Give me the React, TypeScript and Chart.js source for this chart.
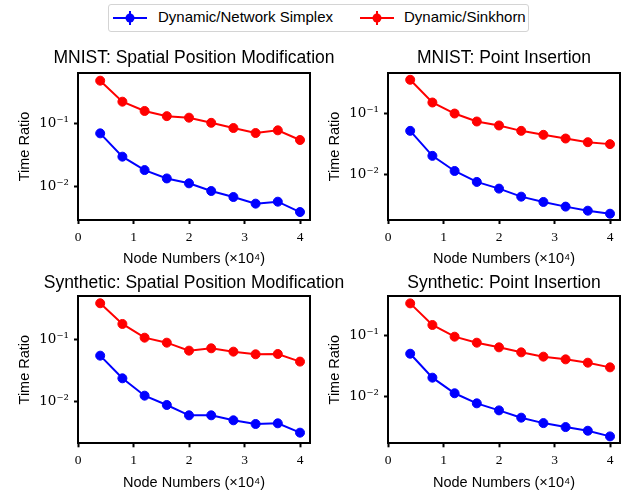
import React, { useEffect, useRef } from "react";
import { Chart, registerables } from "chart.js";

Chart.register(...registerables);

// ---- data ----
const nodeNumbers = [0.4, 0.8, 1.2, 1.6, 2.0, 2.4, 2.8, 3.2, 3.6, 4.0];
const xTickValues = [0, 1, 2, 3, 4];
const xLimits = [0, 4.18];

const seriesNames = ["Dynamic/Network Simplex", "Dynamic/Sinkhorn"];
const seriesColors = ["#0000ff", "#ff0000"];

const panelTitles = [
  "MNIST: Spatial Position Modification",
  "MNIST: Point Insertion",
  "Synthetic: Spatial Position Modification",
  "Synthetic: Point Insertion",
];

const mnistSpatialNS = [0.0695, 0.0298, 0.0183, 0.0135, 0.0113, 0.00855, 0.00687, 0.0054, 0.0058, 0.00398];
const mnistSpatialSK = [0.472, 0.22, 0.157, 0.13, 0.123, 0.102, 0.0844, 0.0704, 0.0776, 0.0546];
const mnistInsertNS = [0.0526, 0.0205, 0.0116, 0.00768, 0.00597, 0.00441, 0.00361, 0.00303, 0.0026, 0.00232];
const mnistInsertSK = [0.36, 0.153, 0.101, 0.0748, 0.0644, 0.0526, 0.0453, 0.0394, 0.0343, 0.0319];
const synthSpatialNS = [0.0557, 0.0239, 0.0125, 0.00883, 0.006, 0.006, 0.00498, 0.00434, 0.00445, 0.00314];
const synthSpatialSK = [0.394, 0.182, 0.109, 0.0905, 0.0672, 0.0733, 0.0647, 0.0586, 0.0593, 0.0446];
const synthInsertNS = [0.0494, 0.02, 0.0111, 0.00759, 0.00582, 0.00442, 0.0036, 0.0031, 0.0027, 0.00218];
const synthInsertSK = [0.33, 0.146, 0.0939, 0.0749, 0.0628, 0.052, 0.0442, 0.0399, 0.0352, 0.0295];

const yLimitsP1 = [0.00298, 0.624];
const yLimitsP2 = [0.00183, 0.465];
const yLimitsP3 = [0.00211, 0.517];
const yLimitsP4 = [0.00168, 0.436];

const xAxisLabel = "Node Numbers (×10⁴)";
const yAxisLabel = "Time Ratio";

// ---- helpers ----
const SUP: Record<string, string> = {
  "-": "⁻", "0": "⁰", "1": "¹", "2": "²", "3": "³", "4": "⁴", "5": "⁵", "6": "⁶", "7": "⁷", "8": "⁸", "9": "⁹",
};
const sup = (s: string) => s.split("").map((c) => SUP[c] ?? c).join("");

const SANS = "'Liberation Sans', Arial, sans-serif";
const SERIF = "'Liberation Serif', 'Times New Roman', serif";
const SERIF_Y = "'DejaVu Serif', serif";
const BLACK = "#000000";
const FRAME_W = 2;
const TICK_W = 2;

const logTicks = (min: number, max: number, wantMajor: boolean) => {
  const out: any[] = [];
  const lo = Math.floor(Math.log10(min));
  const hi = Math.ceil(Math.log10(max));
  for (let e = lo; e <= hi; e++) {
    for (let m = 1; m <= 9; m++) {
      const v = parseFloat((m * Math.pow(10, e)).toPrecision(6));
      if (v >= min && v <= max && (m === 1) === wantMajor) out.push({ value: v, major: m === 1 });
    }
  }
  return out;
};

type PanelProps = {
  title: string;
  ns: number[];
  sk: number[];
  yLim: number[];
  left: number;
  top: number;
  height: number;
  titlePadTop: number;
  titlePadBottom: number;
  layoutPadBottom: number;
};

function Panel({ title, ns, sk, yLim, left, top, height, titlePadTop, titlePadBottom, layoutPadBottom }: PanelProps) {
  const ref = useRef<HTMLCanvasElement | null>(null);
  const width = 388;
  useEffect(() => {
    if (!ref.current) return;
    const mk = (vals: number[]) => nodeNumbers.map((x, i) => ({ x, y: vals[i] }));
    const series = [ns, sk];
    const hiddenFrame = {
      display: true,
      grid: { display: false },
      ticks: { display: false },
      border: { display: true, color: BLACK, width: FRAME_W },
      title: { display: false },
    };
    const tickGrid = (len: number) => ({
      display: true,
      drawOnChartArea: false,
      drawTicks: true,
      tickLength: len,
      color: BLACK,
      tickColor: BLACK,
      tickWidth: TICK_W,
    });
    const chart = new Chart(ref.current, {
      type: "line",
      data: {
        datasets: series.map((vals, i) => ({
          label: seriesNames[i],
          data: mk(vals),
          borderColor: seriesColors[i],
          backgroundColor: seriesColors[i],
          pointBackgroundColor: seriesColors[i],
          pointBorderColor: seriesColors[i],
          borderWidth: 2,
          pointRadius: 4.5,
          pointBorderWidth: 1,
          tension: 0,
          fill: false,
          xAxisID: "x",
          yAxisID: "y",
        })),
      },
      options: {
        animation: false,
        responsive: false,
        devicePixelRatio: 1,
        layout: { padding: { left: 0, right: 0, top: 0, bottom: layoutPadBottom } },
        plugins: {
          legend: { display: false },
          tooltip: { enabled: false },
          title: {
            display: true,
            text: title,
            color: BLACK,
            font: { family: SANS, size: 17.5, weight: "normal", lineHeight: 1.2 },
            padding: { top: titlePadTop, bottom: titlePadBottom },
          },
        },
        scales: {
          x: {
            type: "linear",
            position: "bottom",
            weight: 1,
            min: xLimits[0],
            max: xLimits[1],
            grid: tickGrid(4),
            border: { display: true, color: BLACK, width: FRAME_W },
            afterBuildTicks: (scale: any) => {
              scale.ticks = xTickValues.map((v) => ({ value: v }));
            },
            afterFit: (scale: any) => {
              scale.height = 48;
            },
            ticks: {
              autoSkip: false,
              maxRotation: 0,
              padding: 5,
              color: BLACK,
              font: { family: SERIF, size: 13.5 },
              callback: (v: any) => String(v),
            },
            title: {
              display: true,
              text: xAxisLabel,
              color: BLACK,
              font: { family: SANS, size: 14.5, lineHeight: 1.2 },
              padding: { top: 0, bottom: 0 },
            },
          },
          xB: {
            type: "linear",
            position: "bottom",
            weight: 0,
            min: xLimits[0],
            max: xLimits[1],
            ...hiddenFrame,
            afterFit: (scale: any) => {
              scale.height = 0;
            },
          },
          x2: {
            type: "linear",
            position: "top",
            min: xLimits[0],
            max: xLimits[1],
            ...hiddenFrame,
            afterFit: (scale: any) => {
              scale.height = 0;
            },
          },
          y: {
            type: "logarithmic",
            position: "left",
            weight: 1,
            min: yLim[0],
            max: yLim[1],
            grid: tickGrid(4),
            border: { display: true, color: BLACK, width: FRAME_W },
            afterBuildTicks: (scale: any) => {
              scale.ticks = logTicks(scale.min, scale.max, true);
            },
            afterFit: (scale: any) => {
              scale.width = 78;
            },
            ticks: {
              autoSkip: false,
              padding: 5,
              color: BLACK,
              font: { family: SERIF_Y, size: 13.5 },
              callback: (v: any) => "10" + sup(String(Math.round(Math.log10(Number(v))))),
            },
            title: {
              display: true,
              text: yAxisLabel,
              color: BLACK,
              font: { family: SANS, size: 14.5, lineHeight: 1.2 },
              padding: { top: 16.3, bottom: 0 },
            },
          },
          yL: {
            type: "logarithmic",
            position: "left",
            weight: 0,
            min: yLim[0],
            max: yLim[1],
            ...hiddenFrame,
            afterFit: (scale: any) => {
              scale.width = 0;
            },
          },
          y2: {
            type: "logarithmic",
            position: "right",
            min: yLim[0],
            max: yLim[1],
            ...hiddenFrame,
            afterFit: (scale: any) => {
              scale.width = 78;
            },
          },
        },
      },
    } as any);
    return () => chart.destroy();
  }, []);
  return (
    <canvas
      ref={ref}
      width={width}
      height={height}
      style={{ position: "absolute", left, top, width, height }}
    />
  );
}

function LegendHandle({ color }: { color: string }) {
  return (
    <svg width={34} height={16} style={{ display: "block" }}>
      <line x1={0} y1={8} x2={34} y2={8} stroke={color} strokeWidth={2} />
      <line x1={17} y1={1} x2={17} y2={15} stroke={color} strokeWidth={2} />
      <circle cx={17} cy={8} r={4.5} fill={color} />
    </svg>
  );
}

export default function App() {
  return (
    <div style={{ position: "absolute", left: 0, top: 0, width: 625, height: 493, background: "#fff", overflow: "hidden" }}>
      <div
        style={{
          position: "absolute",
          left: 108,
          top: 4,
          width: 421,
          height: 28,
          border: "1px solid #d4d4d4",
          borderRadius: 3,
          boxSizing: "border-box",
          fontFamily: SANS,
          fontSize: 15,
          color: "#000",
        }}
      >
        <div style={{ position: "absolute", left: 4, top: 5 }}>
          <LegendHandle color={seriesColors[0]} />
        </div>
        <div style={{ position: "absolute", left: 49, top: 3, lineHeight: "18px", whiteSpace: "nowrap" }}>{seriesNames[0]}</div>
        <div style={{ position: "absolute", left: 251, top: 5 }}>
          <LegendHandle color={seriesColors[1]} />
        </div>
        <div style={{ position: "absolute", left: 295, top: 3, lineHeight: "18px", whiteSpace: "nowrap" }}>{seriesNames[1]}</div>
      </div>
      <Panel title={panelTitles[0]} ns={mnistSpatialNS} sk={mnistSpatialSK} yLim={yLimitsP1} left={0} top={40} height={228} titlePadTop={7.5} titlePadBottom={4.5} layoutPadBottom={0} />
      <Panel title={panelTitles[1]} ns={mnistInsertNS} sk={mnistInsertSK} yLim={yLimitsP2} left={310} top={40} height={228} titlePadTop={7.5} titlePadBottom={4.5} layoutPadBottom={0} />
      <Panel title={panelTitles[2]} ns={synthSpatialNS} sk={synthSpatialSK} yLim={yLimitsP3} left={0} top={265} height={228} titlePadTop={7.2} titlePadBottom={2.8} layoutPadBottom={1.7} />
      <Panel title={panelTitles[3]} ns={synthInsertNS} sk={synthInsertSK} yLim={yLimitsP4} left={310} top={265} height={228} titlePadTop={7.2} titlePadBottom={2.8} layoutPadBottom={1.7} />
    </div>
  );
}
